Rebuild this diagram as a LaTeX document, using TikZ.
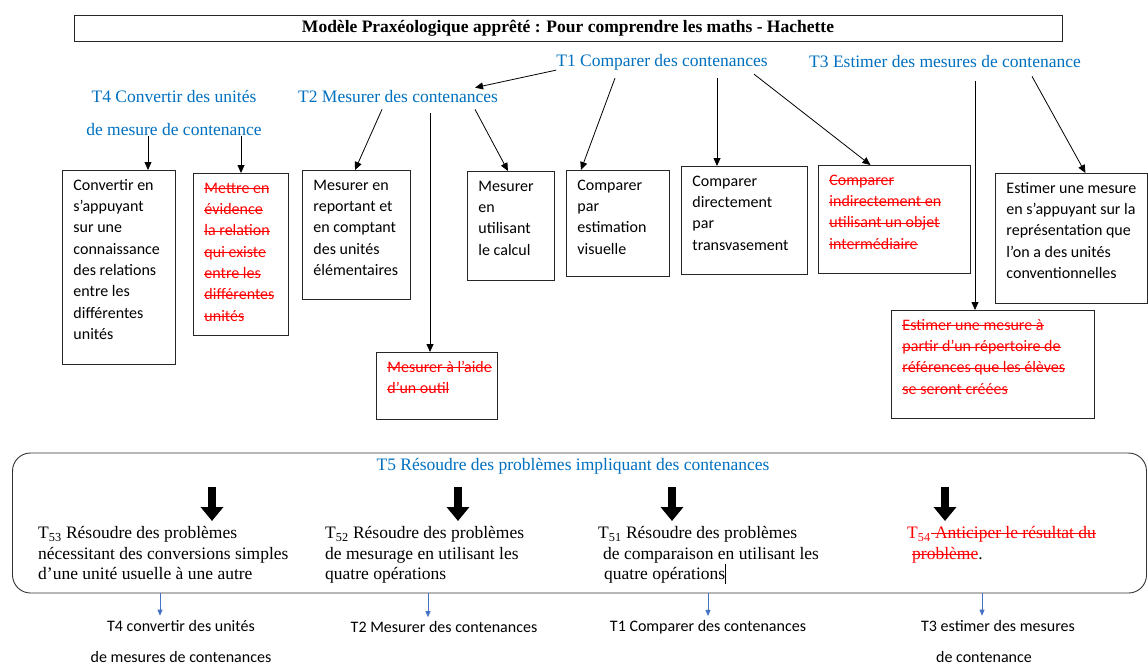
\documentclass[tikz,border=0pt]{standalone}
\usepackage{fontspec}
\setmainfont{Liberation Serif}
\newfontfamily\calibri{Carlito}
\usetikzlibrary{arrows.meta}

\definecolor{bleuT}{RGB}{0,112,192}
\definecolor{rougeT}{RGB}{255,0,0}
\definecolor{bleuF}{RGB}{68,114,196}

\newsavebox\biffebox
\newcommand{\biffe}[1]{\leavevmode\sbox\biffebox{#1}\rlap{\rule[0.27em]{\wd\biffebox}{0.6pt}}\usebox\biffebox}
\newcommand{\contenu}[3]{\hspace*{11pt}\parbox[t][#2][t]{#1}{\raggedright\strut#3}}

\tikzset{
  tache/.style={draw=black!85, line width=0.9pt, anchor=north west, inner xsep=0pt, inner ysep=5pt,
    font=\calibri\fontsize{16}{21.3}\selectfont},
  barre/.style={tache, text=rougeT},
  titreT/.style={text=bleuT, font=\fontsize{17.5}{33}\selectfont, inner sep=0pt, align=center},
  soustache/.style={anchor=north west, inner sep=0pt, align=left, font=\fontsize{17.5}{20.5}\selectfont},
  etiquette/.style={inner sep=0pt, align=center, font=\calibri\fontsize{16}{31}\selectfont},
  fleche/.style={-{Triangle[length=8pt,width=7pt]}, line width=0.8pt},
  flechebleue/.style={-{Triangle[length=6pt,width=5pt]}, line width=0.8pt, bleuF},
  grossefleche/.style={-{Triangle[length=14pt,width=22pt]}, line width=8pt}
}

\begin{document}
\begin{tikzpicture}[x=1pt,y=-1pt]
\useasboundingbox (0,0) rectangle (1148,666);

% titre
\node[draw=black!85, line width=0.9pt, minimum width=988pt, minimum height=26pt, inner sep=0pt,
  font=\bfseries\fontsize{17.5}{20}\selectfont] (titre) at (568,28)
  {Modèle Praxéologique apprêté : Pour comprendre les maths - Hachette};

% types de taches
\node[titreT] (t1) at (662,62) {T1 Comparer des contenances};
\node[titreT] (t3) at (945,62) {T3 Estimer des mesures de contenance};
\node[titreT] (t2) at (398,97) {T2 Mesurer des contenances};
\node[titreT] (t4) at (174,113) {T4 Convertir des unités\\ de mesure de contenance};

% techniques
\node[tache] (b1) at (62,170) {\contenu{102pt}{184pt}{Convertir en\\ s’appuyant\\ sur une\\ connaissance\\ des relations\\ entre les\\ différentes\\ unités}};
\node[barre] (b2) at (193,173) {\contenu{84pt}{152pt}{\biffe{Mettre en}\\ \biffe{évidence}\\ \biffe{la relation}\\ \biffe{qui existe}\\ \biffe{entre les}\\ \biffe{différentes}\\ \biffe{unités}}};
\node[tache] (b3) at (302,170) {\contenu{97pt}{119pt}{Mesurer en\\ reportant et\\ en comptant\\ des unités\\ élémentaires}};
\node[tache] (b4) at (467,171) {\contenu{76pt}{99pt}{Mesurer\\ en\\ utilisant\\ le calcul}};
\node[tache] (b5) at (566,170) {\contenu{92pt}{96pt}{Comparer\\ par\\ estimation\\ visuelle}};
\node[tache] (b6) at (681,166) {\contenu{115pt}{98pt}{Comparer\\ directement\\ par\\ transvasement}};
\node[barre] (b7) at (818,165) {\contenu{141pt}{98pt}{\biffe{Comparer}\\ \biffe{indirectement en}\\ \biffe{utilisant un objet}\\ \biffe{intermédiaire}}};
\node[tache] (b8) at (995,173) {\contenu{141pt}{120pt}{Estimer une mesure\\ en s’appuyant sur la\\ représentation que\\ l’on a des unités\\ conventionnelles}};
\node[barre] (b9) at (891,310) {\contenu{192pt}{98pt}{\biffe{Estimer une mesure à}\\ \biffe{partir d’un répertoire de}\\ \biffe{références que les élèves}\\ \biffe{se seront créées}}};
\node[barre] (b10) at (376,352) {\contenu{110pt}{57pt}{\biffe{Mesurer à l’aide}\\ \biffe{d’un outil}}};

\draw[fleche] (t1.south west) -- ([xshift=-23pt,yshift=3pt]t2.north east);
\draw[fleche] ([xshift=-26pt]t4.south) -- ([xshift=-26pt]t4.south |- b1.north);
\draw[fleche] ([xshift=67pt]t4.south) -- ([xshift=67pt]t4.south |- b2.north);
\draw[fleche] ([xshift=-16pt,yshift=-6pt]t2.south) -- ([xshift=-43pt]t2.south |- b3.north);
\draw[fleche] ([xshift=32pt,yshift=-10pt]t2.south) -- ([xshift=32pt]t2.south |- b10.north);
\draw[fleche] ([xshift=77pt,yshift=-6pt]t2.south) -- ([xshift=-3pt]b4.north);
\draw[fleche] ([xshift=-47pt,yshift=-8pt]t1.south) -- ([xshift=-37pt]b5.north);
\draw[fleche] ([xshift=55pt,yshift=-8pt]t1.south) -- ([xshift=55pt]t1.south |- b6.north);
\draw[fleche] ([xshift=92pt,yshift=-4pt]t1.south) -- ([xshift=-24pt]b7.north);
\draw[fleche] ([xshift=30pt,yshift=-13pt]t3.south) -- ([xshift=30pt]t3.south |- b9.north);
\draw[fleche] ([xshift=87pt,yshift=-8pt]t3.south) -- ([xshift=14pt]b8.north);

% T5
\node[draw=black!80, line width=0.9pt, rounded corners=18pt, minimum width=1134pt, minimum height=140pt,
  inner sep=0pt] (cadre5) at (579.5,523) {};
\node[titreT] (t5) at (573,466) {T5 Résoudre des problèmes impliquant des contenances};

\node[soustache] (t53) at (38,524) {\strut T\textsubscript{53} Résoudre des problèmes\\ nécessitant des conversions simples\\ d’une unité usuelle à une autre};
\node[soustache] (t52) at (325,524) {\strut T\textsubscript{52} Résoudre des problèmes\\ de mesurage en utilisant les\\ quatre opérations};
\node[soustache] (t51) at (598,524) {\strut T\textsubscript{51} Résoudre des problèmes\\ \hspace*{5pt}de comparaison en utilisant les\\ \hspace*{6pt}quatre opérations\rule[-4pt]{0.7pt}{20pt}};
\node[soustache, text=rougeT] (t54) at (907,524) {\strut T\textsubscript{54}\biffe{~Anticiper le résultat du}\\ \hspace*{5pt}\biffe{problème}{\color{black}.}};

\draw[grossefleche] ([xshift=174pt,yshift=37pt]t53.north west) -- ([xshift=174pt,yshift=3pt]t53.north west);
\draw[grossefleche] ([xshift=133pt,yshift=37pt]t52.north west) -- ([xshift=133pt,yshift=3pt]t52.north west);
\draw[grossefleche] ([xshift=74pt,yshift=37pt]t51.north west) -- ([xshift=74pt,yshift=3pt]t51.north west);
\draw[grossefleche] ([xshift=38pt,yshift=37pt]t54.north west) -- ([xshift=38pt,yshift=3pt]t54.north west);

% renvois
\node[etiquette] (lt4) at (181,641) {T4 convertir des unités\\ de mesures de contenances};
\node[etiquette] (lt2) at (444,627) {T2 Mesurer des contenances};
\node[etiquette] (lt1) at (708,627) {T1 Comparer des contenances};
\node[etiquette, align=left] (lt3) at (998,641) {T3 estimer des mesures\\ \hspace*{15pt}de contenance};

\draw[flechebleue] ([xshift=-21pt]lt4.north |- cadre5.south) -- ([xshift=-21pt,yshift=4pt]lt4.north);
\draw[flechebleue] ([xshift=-16pt]lt2.north |- cadre5.south) -- ([xshift=-16pt,yshift=4pt]lt2.north);
\draw[flechebleue] (lt1.north |- cadre5.south) -- ([yshift=4pt]lt1.north);
\draw[flechebleue] ([xshift=-16pt]lt3.north |- cadre5.south) -- ([xshift=-16pt,yshift=4pt]lt3.north);
\end{tikzpicture}
\end{document}
